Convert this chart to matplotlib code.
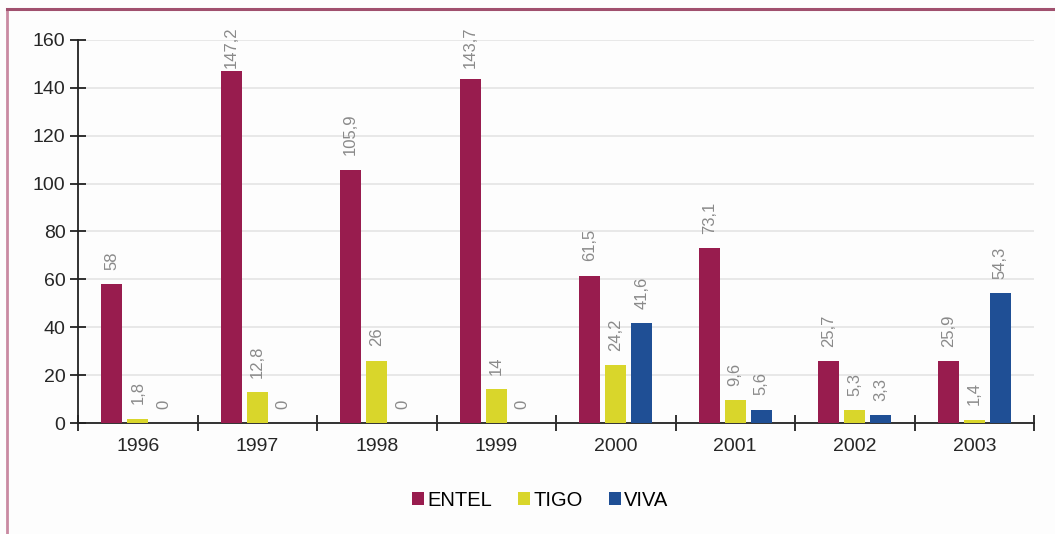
import matplotlib
matplotlib.use("Agg")
import matplotlib.pyplot as plt
from matplotlib.lines import Line2D
from matplotlib.patches import Patch
import numpy as np

plt.rcParams['font.family'] = ['Liberation Sans', 'DejaVu Sans']

years = ['1996', '1997', '1998', '1999', '2000', '2001', '2002', '2003']
entel = [58, 147.2, 105.9, 143.7, 61.5, 73.1, 25.7, 25.9]
tigo = [1.8, 12.8, 26, 14, 24.2, 9.6, 5.3, 1.4]
viva = [0, 0, 0, 0, 41.6, 5.6, 3.3, 54.3]
series_names = ['ENTEL', 'TIGO', 'VIVA']
colors = ['#981c4e', '#d9d62b', '#1f4f95']
yticks = [0, 20, 40, 60, 80, 100, 120, 140, 160]

def fmt(v):
    s = ('%.1f' % v).rstrip('0').rstrip('.')
    return s.replace('.', ',')

fig = plt.figure(figsize=(10.55, 5.34), dpi=100, facecolor='#fdfdfd')
ax = fig.add_axes([78/1055, 1-423/534, (1034-78)/1055, (423-40)/534])
ax.set_facecolor('#fdfdfd')

x = np.arange(len(years))
w = 0.175
step = 0.218
for i, (vals, c) in enumerate(zip([entel, tigo, viva], colors)):
    xs = x + (i-1)*step
    ax.bar(xs, vals, width=w, color=c, zorder=3)
    for xi, v in zip(xs, vals):
        txt = fmt(v)
        length = len(txt)*3.3
        yl = min(v + 6.0, 165 - length)
        ax.text(xi, yl, txt, rotation=90, ha='center', va='bottom',
                fontsize=12, color='#8a8a8a', clip_on=False, zorder=4)

ax.set_xlim(-0.5, 7.5)
ax.set_ylim(0, 160)
ax.set_yticks(yticks)
ax.set_yticklabels([str(t) for t in yticks], fontsize=14, color='#262626')
ax.set_xticks(np.arange(-0.5, 8, 1))
ax.set_xticklabels([])
ax.set_xticks(x, minor=True)
ax.set_xticklabels(years, minor=True, fontsize=14, color='#262626')
ax.tick_params(axis='x', which='minor', length=0, pad=11)
ax.tick_params(axis='x', which='major', direction='inout', length=12, width=1.3, color='#222222')
ax.tick_params(axis='y', direction='inout', length=12, width=1.3, color='#222222', pad=3)
for s in ['top', 'right']:
    ax.spines[s].set_visible(False)
for s in ['left', 'bottom']:
    ax.spines[s].set_linewidth(1.3)
    ax.spines[s].set_color('#222222')
ax.yaxis.grid(True, color='#e4e4e4', linewidth=1.2, zorder=0)
ax.set_axisbelow(True)

handles = [Patch(facecolor=c, edgecolor='none') for c in colors]
fig.legend(handles, series_names, loc='center', bbox_to_anchor=(540/1055, 1-500/534),
           ncol=3, frameon=False, fontsize=14.5, handlelength=0.6, handleheight=0.6,
           handletextpad=0.15, columnspacing=1.3)

# outer frame lines
fig.add_artist(Line2D([7/1055, 7/1055], [0, 1-9/534], color='#c98aa2', linewidth=2, transform=fig.transFigure))
fig.add_artist(Line2D([7/1055, 1], [1-9/534, 1-9/534], color='#a0506e', linewidth=2.2, transform=fig.transFigure))

fig.savefig('out.png', dpi=100, facecolor=fig.get_facecolor())
